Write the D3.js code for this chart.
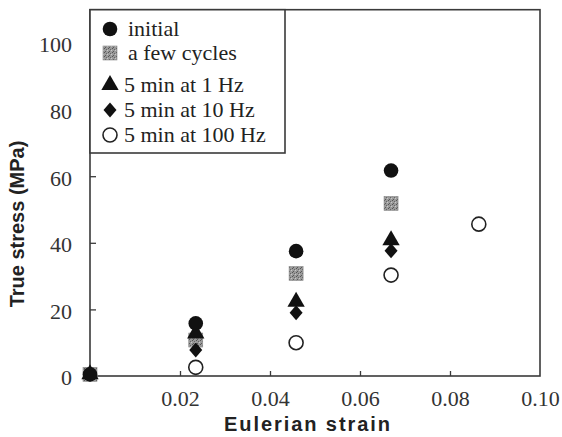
<!DOCTYPE html>
<html>
<head>
<meta charset="utf-8">
<script src="https://cdn.jsdelivr.net/npm/d3@7/dist/d3.min.js"></script>
<style>
  html, body { margin: 0; padding: 0; background: #fff; }
  svg { display: block; }
</style>
</head>
<body>
<svg id="chart" width="562" height="437"></svg>
<script>
// ---- data ----
const seriesNames = ["initial", "a few cycles", "5 min at 1 Hz", "5 min at 10 Hz", "5 min at 100 Hz"];
const seriesKeys = ["initial", "few", "hz1", "hz10", "hz100"];
const strainInitial = [0, 0.0235, 0.0458, 0.0669];
const stressInitial = [0.5, 15.8, 37.5, 61.7];
const strainFew = [0, 0.0235, 0.0458, 0.0669];
const stressFew = [0.5, 10.8, 30.8, 51.8];
const strainHz1 = [0, 0.0235, 0.0458, 0.0669];
const stressHz1 = [0.5, 12.8, 22.3, 40.8];
const strainHz10 = [0, 0.0235, 0.0458, 0.0669];
const stressHz10 = [0.5, 7.8, 19.0, 37.6];
const strainHz100 = [0.0235, 0.0458, 0.0669, 0.0864];
const stressHz100 = [2.6, 10.0, 30.3, 45.6];
const xTicks = [0.02, 0.04, 0.06, 0.08, 0.10];
const xTickLabels = ["0.02", "0.04", "0.06", "0.08", "0.10"];
const yTicks = [0, 20, 40, 60, 80, 100];
const yTickLabels = ["0", "20", "40", "60", "80", "100"];
const xTitle = "Eulerian strain";
const yTitle = "True stress (MPa)";

const svg = d3.select("#chart");
const x = d3.scaleLinear().domain([0, 0.10]).range([90, 540]);
const y = d3.scaleLinear().domain([0, 100]).range([376, 43]);
const yTop = y(110);

const axisColor = "#3a3a3a";
const serif = "'Liberation Serif', 'DejaVu Serif', serif";
const sans = "'Liberation Sans', Arial, sans-serif";

// texture pattern for the grey squares
const defs = svg.append("defs");
const pat = defs.append("pattern").attr("id", "speck").attr("patternUnits", "userSpaceOnUse")
  .attr("width", 4).attr("height", 4);
pat.append("rect").attr("width", 4).attr("height", 4).attr("fill", "#9a9a9a");
pat.append("rect").attr("x", 0).attr("y", 0).attr("width", 1).attr("height", 1).attr("fill", "#555");
pat.append("rect").attr("x", 2).attr("y", 1).attr("width", 1).attr("height", 1).attr("fill", "#666");
pat.append("rect").attr("x", 1).attr("y", 3).attr("width", 1).attr("height", 1).attr("fill", "#5a5a5a");
pat.append("rect").attr("x", 3).attr("y", 2).attr("width", 1).attr("height", 1).attr("fill", "#c8c8c8");

// frame
svg.append("rect")
  .attr("x", x(0)).attr("y", yTop)
  .attr("width", x(0.10) - x(0)).attr("height", y(0) - yTop)
  .attr("fill", "none").attr("stroke", axisColor).attr("stroke-width", 1.6);

// x axis (inward ticks)
const xAxis = d3.axisBottom(x).tickValues(xTicks).tickSize(-5).tickPadding(14)
  .tickFormat((d, i) => xTickLabels[i]);
const gx = svg.append("g").attr("transform", `translate(0,${y(0)})`).call(xAxis);
gx.select(".domain").remove();
gx.selectAll(".tick line").attr("stroke", axisColor).attr("stroke-width", 1.3);
gx.selectAll(".tick text").attr("font-family", serif).attr("font-size", 22).attr("fill", "#333")
  .attr("dy", "0.71em");
gx.selectAll(".tick").filter(d => d === 0.10).select("line").remove();

// y axis (inward ticks)
const yAxis = d3.axisLeft(y).tickValues(yTicks).tickSize(-6).tickPadding(18)
  .tickFormat((d, i) => yTickLabels[i]);
const gy = svg.append("g").attr("transform", `translate(${x(0)},0)`).call(yAxis);
gy.select(".domain").remove();
gy.selectAll(".tick line").attr("stroke", axisColor).attr("stroke-width", 1.3);
gy.selectAll(".tick").filter(d => d === 0).select("line").remove();
gy.selectAll(".tick text").attr("font-family", serif).attr("font-size", 22).attr("fill", "#333")
  .attr("dy", "0.4em");

// axis titles
svg.append("text").attr("x", 307).attr("y", 431).attr("text-anchor", "middle")
  .attr("font-family", sans).attr("font-weight", "bold").attr("font-size", 20)
  .attr("fill", "#222").attr("textLength", 166).attr("lengthAdjust", "spacing").text(xTitle);
svg.append("text").attr("transform", "translate(24,224) rotate(-90)").attr("text-anchor", "middle")
  .attr("font-family", sans).attr("font-weight", "bold").attr("font-size", 20)
  .attr("fill", "#222").text(yTitle);

// marker drawing
function drawMarker(g, key, cx, cy) {
  if (key === "initial") {
    g.append("circle").attr("cx", cx).attr("cy", cy).attr("r", 7.3).attr("fill", "#111");
  } else if (key === "few") {
    g.append("rect").attr("x", cx - 7).attr("y", cy - 7).attr("width", 14).attr("height", 14)
      .attr("fill", "url(#speck)").attr("stroke", "#888").attr("stroke-width", 0.6);
  } else if (key === "hz1") {
    g.append("path").attr("d", d3.symbol(d3.symbolTriangle, 130)()).attr("transform", `translate(${cx},${cy})`)
      .attr("fill", "#111");
  } else if (key === "hz10") {
    g.append("path").attr("d", `M0,-7.5L6.5,0L0,7.5L-6.5,0Z`).attr("transform", `translate(${cx},${cy})`)
      .attr("fill", "#111");
  } else {
    g.append("circle").attr("cx", cx).attr("cy", cy).attr("r", 7).attr("fill", "#fff")
      .attr("stroke", "#222").attr("stroke-width", 1.6);
  }
}

const seriesData = [
  [strainInitial, stressInitial],
  [strainFew, stressFew],
  [strainHz1, stressHz1],
  [strainHz10, stressHz10],
  [strainHz100, stressHz100]
];
const drawOrder = [4, 1, 2, 3, 0];
const gp = svg.append("g");
drawOrder.forEach(si => {
  const [xs, ys] = seriesData[si];
  xs.forEach((xv, i) => drawMarker(gp, seriesKeys[si], x(xv), y(ys[i])));
});

// legend
const lg = svg.append("g");
lg.append("rect").attr("x", x(0)).attr("y", yTop).attr("width", 285 - x(0)).attr("height", 153 - yTop)
  .attr("fill", "#fff").attr("stroke", axisColor).attr("stroke-width", 1.6);
const legRows = [29, 53, 85, 110, 135];
const legTextX = [128, 128, 124, 124, 124];
seriesKeys.forEach((k, i) => {
  drawMarker(lg, k, 110, legRows[i]);
  lg.append("text").attr("x", legTextX[i]).attr("y", legRows[i] + 7)
    .attr("font-family", serif).attr("font-size", 22).attr("fill", "#222").text(seriesNames[i]);
});
</script>
</body>
</html>
